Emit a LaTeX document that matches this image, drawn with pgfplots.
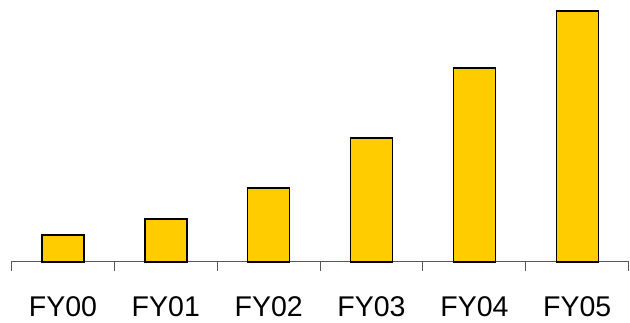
\documentclass[border=0pt]{standalone}
\usepackage{pgfplots}
\pgfplotsset{compat=1.18}
\usepackage{fontspec}
\setmainfont{Liberation Sans}
\definecolor{baryellow}{HTML}{FFCC00}
\begin{document}
\begin{tikzpicture}
\useasboundingbox (-11.5pt,-61pt) rectangle (618.5pt,262pt);
\begin{axis}[
  scale only axis,
  width=617.2pt, height=262pt,
  xmin=-0.5, xmax=5.5,
  ymin=0, ymax=262,
  axis x line*=bottom,
  axis y line=none,
  axis line style={black!65, line width=1pt},
  xtick={0,...,5},
  xticklabels={FY00,FY01,FY02,FY03,FY04,FY05},
  major tick length=0pt,
  minor xtick={-0.5,0.5,...,5.5},
  minor tick length=9pt,
  tick align=outside,
  minor tick style={black!65, line width=1pt},
  xticklabel style={anchor=base, yshift=-55pt, font=\fontsize{28.5}{34}\selectfont},
  ybar, bar width=42pt, bar shift=0pt,
  clip=false,
]
\addplot[fill=baryellow, draw=black, line width=1.5pt] coordinates {
  (0,27) (1,43) (2,74) (3,124) (4,194) (5,251)
};
\end{axis}
\end{tikzpicture}
\end{document}
